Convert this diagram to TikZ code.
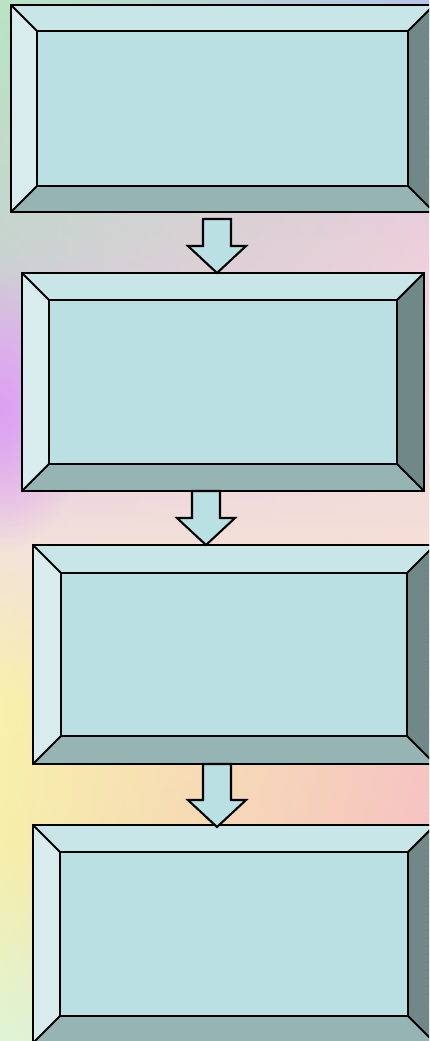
\documentclass[tikz,border=0pt]{standalone}
\usetikzlibrary{calc,fadings}
\definecolor{bevTop}{RGB}{200,230,232}
\definecolor{bevLeft}{RGB}{216,236,238}
\definecolor{bevIn}{RGB}{186,224,227}
\definecolor{bevRight}{RGB}{113,136,136}
\definecolor{bevBot}{RGB}{150,180,180}
\definecolor{Lz}{RGB}{184,228,196}\definecolor{Rz}{RGB}{184,196,232}
\definecolor{La}{RGB}{198,212,206}\definecolor{Ra}{RGB}{236,206,218}
\definecolor{Lb}{RGB}{228,190,230}\definecolor{Rb}{RGB}{242,218,224}
\definecolor{Lc}{RGB}{242,226,218}\definecolor{Rc}{RGB}{244,222,214}
\definecolor{Ld}{RGB}{248,240,172}\definecolor{Rd}{RGB}{246,198,194}
\definecolor{Le}{RGB}{246,238,170}\definecolor{Re}{RGB}{246,194,194}
\definecolor{Lf}{RGB}{222,244,214}\definecolor{Rf}{RGB}{244,214,210}
\definecolor{purpleGlow}{RGB}{220,160,244}
\tikzfading[name=radfade, inner color=transparent!0, outer color=transparent!100]
\tikzset{
  boxnode/.style={rectangle, inner sep=0pt, outer sep=0pt},
  frame/.style={draw=black, line width=2.1pt, line join=miter},
  arrowshape/.style={draw=black, fill=bevIn, line width=2.1pt, line join=miter},
}
\newcommand\bevelbox[2]{%
  \coordinate (#1nw) at ($(#1.north west)+(#2,#2)$);
  \coordinate (#1ne) at ($(#1.north east)+(-#2,#2)$);
  \coordinate (#1se) at ($(#1.south east)+(-#2,-#2)$);
  \coordinate (#1sw) at ($(#1.south west)+(#2,-#2)$);
  \fill[bevTop] (#1.north west) -- (#1.north east) -- (#1ne) -- (#1nw) -- cycle;
  \fill[bevLeft] (#1.north west) -- (#1nw) -- (#1sw) -- (#1.south west) -- cycle;
  \fill[bevRight] (#1.north east) -- (#1.south east) -- (#1se) -- (#1ne) -- cycle;
  \fill[bevBot] (#1.south west) -- (#1sw) -- (#1se) -- (#1.south east) -- cycle;
  \fill[bevIn] (#1nw) rectangle (#1se);
  \draw[frame] (#1.north west) rectangle (#1.south east);
  \draw[frame] (#1nw) rectangle (#1se);
  \draw[frame] (#1.north west) -- (#1nw) (#1.north east) -- (#1ne)
               (#1.south east) -- (#1se) (#1.south west) -- (#1sw);
}
\newcommand\blockarrow[2]{%
  \draw[arrowshape] ($(#1)+(-14,0)$) -- ($(#1)+(14,0)$) -- ($(#2)+(14,-27)$)
    -- ($(#2)+(29,-27)$) -- (#2) -- ($(#2)+(-29,-27)$) -- ($(#2)+(-14,-27)$) -- cycle;
}
\begin{document}
\begin{tikzpicture}[x=1pt,y=-1pt]
\useasboundingbox (0,0) rectangle (429,1041);
\clip (0,0) rectangle (429,1041);
% background: horizontal strips, each shaded left to right
\foreach \ya/\yb/\ca/\cb/\da/\db in {0/235/Lz/La/Rz/Ra, 235/400/La/Lb/Ra/Rb,
    400/545/Lb/Lc/Rb/Rc, 545/700/Lc/Ld/Rc/Rd, 700/850/Ld/Le/Rd/Re, 850/1041/Le/Lf/Re/Rf}{
  \foreach \k in {0,...,23}{
    \pgfmathsetmacro\ylo{\ya+(\yb-\ya)*\k/24}
    \pgfmathsetmacro\yhi{\ya+(\yb-\ya)*(\k+1)/24+0.8}
    \pgfmathtruncatemacro\tt{(\k+0.5)/24*100}
    \colorlet{curL}{\cb!\tt!\ca}
    \colorlet{curR}{\db!\tt!\da}
    \fill[left color=curL, right color=curR] (0,\ylo) rectangle (429,\yhi);
  }
}
\fill[purpleGlow, path fading=radfade] (0,410) ellipse (90 and 140);
% boxes
\node[boxnode, minimum width=423pt, minimum height=207pt] (b1) at (222.5,108.5) {};
\node[boxnode, minimum width=402pt, minimum height=218pt] (b2) at (223,382) {};
\node[boxnode, minimum width=402pt, minimum height=219pt] (b3) at (234,654.5) {};
\node[boxnode, minimum width=402pt, minimum height=218pt] (b4) at (234,934) {};
\bevelbox{b1}{26}
\bevelbox{b2}{27}
\bevelbox{b3}{28}
\bevelbox{b4}{27}
% arrows
\coordinate (a1s) at (217,219);
\coordinate (a2s) at (206,491);
\coordinate (a3s) at (217,764);
\coordinate (a1e) at (a1s |- b2.north);
\coordinate (a2e) at (a2s |- b3.north);
\coordinate (a3e) at ($(a3s |- b4.north)+(0,2)$);
\blockarrow{a1s}{a1e}
\blockarrow{a2s}{a2e}
\blockarrow{a3s}{a3e}
\end{tikzpicture}
\end{document}
